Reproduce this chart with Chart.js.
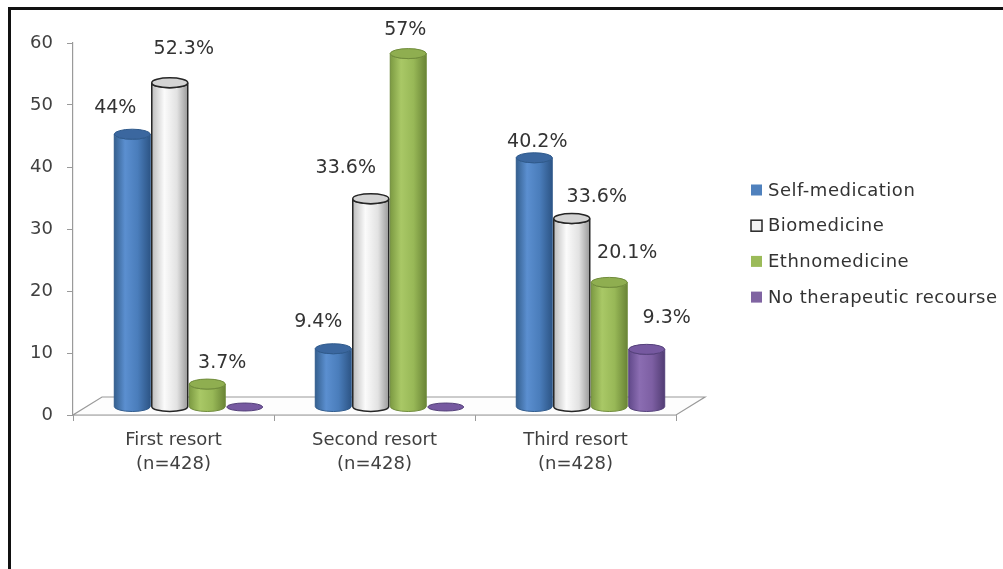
<!DOCTYPE html>
<html>
<head>
<meta charset="utf-8">
<script src="https://cdn.jsdelivr.net/npm/chart.js@4"></script>
<style>
html, body { margin: 0; padding: 0; background: #fff; overflow: hidden; }
canvas { position: absolute; left: 0; top: 0; }
#frame {
    position: absolute; left: 8px; top: 7px; width: 1100px; height: 700px;
    border-top: 3px solid #111; border-left: 3px solid #111; pointer-events: none;
}
</style>
</head>
<body>
<canvas id="myChart" width="1003" height="569"></canvas>
<div id="frame"></div>
<script>
// Chart data
const categories = [['First resort', '(n=428)'], ['Second resort', '(n=428)'], ['Third resort', '(n=428)']];
const seriesNames = ['Self-medication', 'Biomedicine', 'Ethnomedicine', 'No therapeutic recourse'];
const selfMedication = [44, 9.4, 40.2];
const biomedicine = [52.3, 33.6, 30.4];
const ethnomedicine = [3.7, 57, 20.1];
const noRecourse = [0, 0, 9.3];
// printed labels (the third biomedicine bar is labelled 33.6% in the source)
const selfMedicationLabels = ['44%', '9.4%', '40.2%'];
const biomedicineLabels = ['52.3%', '33.6%', '33.6%'];
const ethnomedicineLabels = ['3.7%', '57%', '20.1%'];
const noRecourseLabels = ['', '', '9.3%'];
const yTicks = [0, 10, 20, 30, 40, 50, 60];

// Styling
const depthX = 29, depthY = 18;     // 3D floor depth
const barShiftX = 15, barShiftY = -8;
const labelShift = [
    [[-17, -26], [-15, -27], [3, -16]],
    [[14, -34], [-25, -31], [25, -21]],
    [[15, -21], [-3, -24], [18, -29]],
    [[0, 0], [0, 0], [20, -31]]
];
const cylStyles = [
    { body: [[0, '#35608f'], [0.3, '#5b8fd0'], [0.65, '#4a7dbb'], [1, '#2d5586']], top: '#3b679f', edge: '#2f5a8c', lw: 1 },
    { body: [[0, '#bdbdbd'], [0.35, '#fbfbfb'], [0.7, '#e2e2e2'], [1, '#9a9a9a']], top: '#d4d4d4', edge: '#262626', lw: 1.5 },
    { body: [[0, '#7c9a42'], [0.3, '#a9c866'], [0.65, '#98b857'], [1, '#6a8536']], top: '#8fae50', edge: '#6f8b3a', lw: 1 },
    { body: [[0, '#61498a'], [0.3, '#8b6db2'], [0.65, '#7d5fa3'], [1, '#523d74']], top: '#7659a0', edge: '#54407a', lw: 1 }
];
const labelTexts = [selfMedicationLabels, biomedicineLabels, ethnomedicineLabels, noRecourseLabels];

function drawCylinder(ctx, cx, top, base, w, st) {
    const rx = w / 2, ry = 5;
    ctx.save();
    if (base - top < 1) {
        ctx.beginPath();
        ctx.ellipse(cx, base, rx, 4, 0, 0, Math.PI * 2);
        ctx.fillStyle = st.top;
        ctx.fill();
        ctx.strokeStyle = st.edge;
        ctx.lineWidth = 1;
        ctx.stroke();
        ctx.restore();
        return;
    }
    const g = ctx.createLinearGradient(cx - rx, 0, cx + rx, 0);
    st.body.forEach(s => g.addColorStop(s[0], s[1]));
    ctx.beginPath();
    ctx.moveTo(cx - rx, top);
    ctx.lineTo(cx - rx, base);
    ctx.ellipse(cx, base, rx, ry, 0, Math.PI, 0, true);
    ctx.lineTo(cx + rx, top);
    ctx.ellipse(cx, top, rx, ry, 0, 0, Math.PI, false);
    ctx.closePath();
    ctx.fillStyle = g;
    ctx.fill();
    ctx.strokeStyle = st.edge;
    ctx.lineWidth = st.lw;
    ctx.stroke();
    ctx.beginPath();
    ctx.ellipse(cx, top, rx, ry, 0, 0, Math.PI * 2);
    ctx.fillStyle = st.top;
    ctx.fill();
    ctx.stroke();
    ctx.restore();
}

// Floor + cylinders + value labels
const cylinderPlugin = {
    id: 'cylinders',
    beforeDatasetsDraw(chart) {
        const ctx = chart.ctx;
        const a = chart.chartArea;
        ctx.save();
        ctx.beginPath();
        ctx.moveTo(a.left, a.bottom);
        ctx.lineTo(a.right, a.bottom);
        ctx.lineTo(a.right + depthX, a.bottom - depthY);
        ctx.lineTo(a.left + depthX, a.bottom - depthY);
        ctx.closePath();
        ctx.fillStyle = '#fdfdfd';
        ctx.fill();
        ctx.strokeStyle = '#9a9a9a';
        ctx.lineWidth = 1.2;
        ctx.stroke();
        ctx.restore();
    },
    beforeDatasetDraw() {
        return false;
    },
    afterDatasetsDraw(chart) {
        const ctx = chart.ctx;
        chart.data.datasets.forEach((ds, di) => {
            const meta = chart.getDatasetMeta(di);
            meta.data.forEach((el, i) => {
                drawCylinder(ctx, el.x + barShiftX, el.y + barShiftY, el.base + barShiftY, el.width, cylStyles[di]);
            });
        });
        ctx.save();
        ctx.font = '19px "DejaVu Sans"';
        ctx.fillStyle = '#333';
        ctx.textAlign = 'center';
        ctx.textBaseline = 'middle';
        chart.data.datasets.forEach((ds, di) => {
            const meta = chart.getDatasetMeta(di);
            meta.data.forEach((el, i) => {
                const txt = labelTexts[di][i];
                if (!txt) return;
                const off = labelShift[di][i];
                ctx.fillText(txt, el.x + barShiftX + off[0], el.y + barShiftY + off[1]);
            });
        });
        ctx.restore();
    }
};

// Legend on the right
const legendPlugin = {
    id: 'sideLegend',
    afterDraw(chart) {
        const ctx = chart.ctx;
        ctx.save();
        ctx.font = '18px "DejaVu Sans"';
        ctx.letterSpacing = '0.5px';
        ctx.textBaseline = 'middle';
        chart.data.datasets.forEach((ds, di) => {
            const y = 190 + di * 35.7;
            ctx.fillStyle = ds.backgroundColor;
            ctx.fillRect(751, y - 5.5, 11, 11);
            if (ds.borderWidth) {
                ctx.strokeStyle = ds.borderColor;
                ctx.lineWidth = 1.5;
                ctx.strokeRect(751, y - 5.5, 11, 11);
            }
            ctx.fillStyle = '#333';
            ctx.fillText(ds.label, 768, y + 1);
        });
        ctx.restore();
    }
};

function initializeChart() {
    Chart.defaults.font.family = '"DejaVu Sans"';
    const ctx = document.getElementById('myChart').getContext('2d');
    return new Chart(ctx, {
        type: 'bar',
        data: {
            labels: categories,
            datasets: [
                { label: seriesNames[0], data: selfMedication, backgroundColor: '#4F81BD', borderWidth: 0 },
                { label: seriesNames[1], data: biomedicine, backgroundColor: '#F2F2F2', borderColor: '#262626', borderWidth: 1 },
                { label: seriesNames[2], data: ethnomedicine, backgroundColor: '#9BBB59', borderWidth: 0 },
                { label: seriesNames[3], data: noRecourse, backgroundColor: '#8064A2', borderWidth: 0 }
            ]
        },
        options: {
            responsive: false,
            animation: false,
            devicePixelRatio: 1,
            categoryPercentage: 0.746,
            barPercentage: 0.96,
            layout: { padding: { left: 0, top: 43, right: 327, bottom: 0 } },
            plugins: {
                legend: { display: false },
                tooltip: { enabled: false }
            },
            scales: {
                x: {
                    grid: { offset: true, drawOnChartArea: false, tickLength: 6, color: '#9a9a9a' },
                    border: { color: '#9a9a9a', width: 1.2 },
                    ticks: { color: '#404040', font: { size: 18, lineHeight: 1.35 }, padding: 7, maxRotation: 0 },
                    afterFit(scale) { scale.height = 154; }
                },
                y: {
                    min: 0,
                    max: 60,
                    afterBuildTicks(scale) { scale.ticks = yTicks.map(v => ({ value: v })); },
                    grid: { drawOnChartArea: false, tickLength: 6, color: '#9a9a9a' },
                    border: { color: '#9a9a9a', width: 1.2 },
                    ticks: { color: '#404040', font: { size: 18 }, padding: 14 },
                    afterFit(scale) { scale.width = 73; }
                }
            }
        },
        plugins: [cylinderPlugin, legendPlugin]
    });
}

const chart = initializeChart();
</script>
</body>
</html>
